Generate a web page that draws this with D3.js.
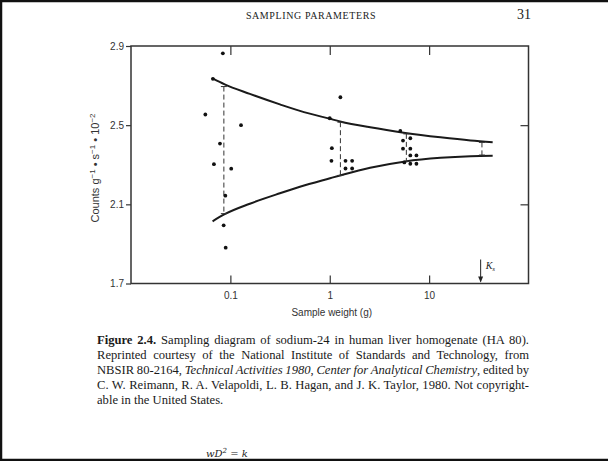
<!DOCTYPE html>
<html>
<head>
<meta charset="utf-8">
<script src="https://cdn.jsdelivr.net/npm/d3@7"></script>
<style>
  html, body { margin: 0; padding: 0; background: #fff; }
  svg { display: block; }
  .axis text { font-family: "Liberation Sans", Arial, sans-serif; font-size: 10px; fill: #333; }
  .axis line { stroke: #333; stroke-width: 1.2; }
  .axis .domain { display: none; }
</style>
</head>
<body>
<div id="chart"></div>
<script>
// sample weights (g) and counts (g^-1 s^-1 10^-2) of the individual assays
const pointWeights = [0.084, 0.0667, 0.056, 0.128, 0.0786, 0.0683, 0.102, 0.089, 0.0856, 0.0897,
                      1.28, 1.0, 1.05, 1.04, 1.44, 1.68, 1.44, 1.68,
                      5.13, 5.46, 6.47, 5.46, 6.47, 6.47, 7.45, 6.47, 7.45, 5.63];
const pointCounts  = [2.863, 2.734, 2.554, 2.50, 2.407, 2.303, 2.280, 2.144, 1.994, 1.881,
                      2.641, 2.535, 2.384, 2.320, 2.320, 2.320, 2.281, 2.281,
                      2.471, 2.422, 2.434, 2.381, 2.381, 2.347, 2.347, 2.305, 2.305, 2.312];

// envelope curves
const curveWeights = [0.0662, 0.0876, 0.157, 0.315, 0.501, 1.007, 1.27, 2.55, 5.77, 13.0, 26.1, 43.6];
const upperCounts  = [2.736, 2.706, 2.658, 2.605, 2.572, 2.532, 2.519, 2.489, 2.461, 2.439, 2.423, 2.414];
const lowerCounts  = [2.014, 2.050, 2.103, 2.156, 2.189, 2.232, 2.246, 2.285, 2.317, 2.335, 2.343, 2.345];

// vertical range bars
const barWeights = [0.086, 1.28, 5.9, 34];
const barTops    = [2.695, 2.515, 2.456, 2.413];
const barBottoms = [2.053, 2.246, 2.317, 2.349];

const ksWeight = 33;

const xTicks = [0.1, 1, 10];
const xTickLabels = ['0.1', '1', '10'];
const yTicks = [1.7, 2.1, 2.5, 2.9];
const yTickLabels = ['1.7', '2.1', '2.5', '2.9'];

const captionLines = [
  [{ t: 'Figure 2.4.', b: true }, { t: ' Sampling diagram of sodium-24 in human liver homogenate (HA 80).' }],
  [{ t: 'Reprinted courtesy of the National Institute of Standards and Technology, from' }],
  [{ t: 'NBSIR 80-2164, ' }, { t: 'Technical Activities 1980', i: true }, { t: ', ' },
   { t: 'Center for Analytical Chemistry', i: true }, { t: ', edited by' }],
  [{ t: 'C. W. Reimann, R. A. Velapoldi, L. B. Hagan, and J. K. Taylor, 1980. Not copyright-' }],
  [{ t: 'able in the United States.' }]
];

const W = 608, H = 461;
const plot = { left: 131, right: 528.5, top: 46, bottom: 283.5 };

const svg = d3.select('#chart').append('svg').attr('width', W).attr('height', H);
svg.append('rect').attr('width', W).attr('height', H).attr('fill', '#fff');

// page border of the scan
svg.append('line').attr('x1', 0).attr('x2', W).attr('y1', 1).attr('y2', 1).attr('stroke', '#111').attr('stroke-width', 2.5);
svg.append('line').attr('x1', 1).attr('x2', 1).attr('y1', 0).attr('y2', H).attr('stroke', '#111').attr('stroke-width', 2.5);

// running head
svg.append('text').attr('x', 311).attr('y', 19).attr('text-anchor', 'middle')
  .style('font-family', '"Liberation Serif", "Times New Roman", serif').style('font-size', '10px')
  .style('letter-spacing', '0.6px').attr('fill', '#222').text('SAMPLING PARAMETERS');
svg.append('text').attr('x', 531).attr('y', 19).attr('text-anchor', 'end')
  .style('font-family', '"Liberation Serif", "Times New Roman", serif').style('font-size', '14px')
  .attr('fill', '#222').text('31');

const x = d3.scaleLog().domain([0.01, 100]).range([plot.left, plot.right]);
const y = d3.scaleLinear().domain([1.7, 2.9]).range([plot.bottom, plot.top]);

// axes
svg.append('g').attr('class', 'axis').attr('transform', `translate(0,${plot.bottom})`)
  .call(d3.axisBottom(x).tickValues(xTicks).tickSize(-8).tickPadding(8)
    .tickFormat((d, i) => xTickLabels[i]));
svg.append('g').attr('class', 'axis').attr('transform', `translate(0,${plot.top})`)
  .call(d3.axisTop(x).tickValues(xTicks).tickSize(-9).tickFormat(''));
svg.append('g').attr('class', 'axis').attr('transform', `translate(${plot.left},0)`)
  .call(d3.axisLeft(y).tickValues(yTicks).tickSize(5).tickPadding(2)
    .tickFormat((d, i) => yTickLabels[i]));
svg.append('g').attr('class', 'axis').attr('transform', `translate(${plot.right},0)`)
  .call(d3.axisRight(y).tickValues([2.1, 2.5]).tickSize(-8).tickFormat(''));

svg.append('rect')
  .attr('x', plot.left).attr('y', plot.top)
  .attr('width', plot.right - plot.left).attr('height', plot.bottom - plot.top)
  .attr('fill', 'none').attr('stroke', '#333').attr('stroke-width', 1.5);

// axis titles
svg.append('text').attr('x', (plot.left + plot.right) / 2 + 2).attr('y', 316).attr('text-anchor', 'middle')
  .style('font-family', '"Liberation Sans", Arial, sans-serif').style('font-size', '10px')
  .attr('fill', '#333').text('Sample weight (g)');

const yTitle = svg.append('text')
  .attr('transform', 'translate(99,168) rotate(-90)').attr('text-anchor', 'middle')
  .style('font-family', '"Liberation Sans", Arial, sans-serif').style('font-size', '11px').attr('fill', '#333');
yTitle.append('tspan').text('Counts g');
yTitle.append('tspan').attr('dy', -4.5).style('font-size', '8px').text('−1');
yTitle.append('tspan').attr('dy', 4.5).text('  •  s');
yTitle.append('tspan').attr('dy', -4.5).style('font-size', '8px').text('−1');
yTitle.append('tspan').attr('dy', 4.5).text('  •  10');
yTitle.append('tspan').attr('dy', -4.5).style('font-size', '8px').text('−2');

// envelope curves
const line = d3.line().x(d => x(d[0])).y(d => y(d[1])).curve(d3.curveMonotoneX);
[upperCounts, lowerCounts].forEach(counts => {
  svg.append('path')
    .attr('d', line(curveWeights.map((w, i) => [w, counts[i]])))
    .attr('fill', 'none').attr('stroke', '#1a1a1a').attr('stroke-width', 2);
});

// range bars
const bars = svg.append('g');
barWeights.forEach((w, i) => {
  const bx = x(w);
  bars.append('line').attr('x1', bx).attr('x2', bx)
    .attr('y1', y(barTops[i])).attr('y2', y(barBottoms[i]))
    .attr('stroke', '#333').attr('stroke-width', 1).attr('stroke-dasharray', '5,3');
  [barTops[i], barBottoms[i]].forEach(v => {
    bars.append('line').attr('x1', bx - 3).attr('x2', bx + 3)
      .attr('y1', y(v)).attr('y2', y(v)).attr('stroke', '#333').attr('stroke-width', 1);
  });
});

// individual points
svg.append('g').selectAll('circle')
  .data(pointWeights.map((w, i) => [w, pointCounts[i]]))
  .join('circle')
  .attr('cx', d => x(d[0])).attr('cy', d => y(d[1]))
  .attr('r', 1.9).attr('fill', '#111');

// K_s marker
const ksX = x(ksWeight);
svg.append('line').attr('x1', ksX).attr('x2', ksX).attr('y1', plot.bottom - 24).attr('y2', plot.bottom - 2)
  .attr('stroke', '#222').attr('stroke-width', 1);
svg.append('path')
  .attr('d', `M${ksX - 2.5},${plot.bottom - 7} L${ksX + 2.5},${plot.bottom - 7} L${ksX},${plot.bottom - 1} Z`)
  .attr('fill', '#222');
const ksLabel = svg.append('text').attr('x', ksX + 5).attr('y', plot.bottom - 15)
  .style('font-family', '"Liberation Serif", "Times New Roman", serif').style('font-style', 'italic')
  .style('font-size', '10px').attr('fill', '#222');
ksLabel.append('tspan').text('K');
ksLabel.append('tspan').attr('dy', 2).style('font-size', '7px').text('s');

// caption, justified between the text margins
const capLeft = 97, capRight = 529;
const capBaselines = [344, 359, 374, 389, 404];
captionLines.forEach((parts, li) => {
  const t = svg.append('text').attr('x', capLeft).attr('y', capBaselines[li])
    .style('font-family', '"Liberation Serif", "Times New Roman", serif').style('font-size', '12.6px')
    .attr('fill', '#1a1a1a');
  parts.forEach(p => {
    t.append('tspan').style('font-weight', p.b ? 'bold' : null)
      .style('font-style', p.i ? 'italic' : null).text(p.t);
  });
  if (li < captionLines.length - 1) {
    const natural = t.node().getComputedTextLength();
    const spaces = parts.map(p => p.t).join('').split(' ').length - 1;
    t.style('word-spacing', `${(capRight - capLeft - natural) / spaces}px`);
  }
});

// handwritten note at the foot of the page
const note = svg.append('text').attr('x', 206).attr('y', 457)
  .style('font-family', '"DejaVu Serif", serif').style('font-style', 'italic')
  .style('font-size', '10px').attr('fill', '#222');
note.append('tspan').text('wD');
note.append('tspan').attr('dy', -4).style('font-size', '7px').text('2');
note.append('tspan').attr('dy', 4).text('  =   k');

// bottom edge of the scan
svg.append('line').attr('x1', 0).attr('x2', W).attr('y1', H - 1).attr('y2', H - 1).attr('stroke', '#111').attr('stroke-width', 2.5);
</script>
</body>
</html>
